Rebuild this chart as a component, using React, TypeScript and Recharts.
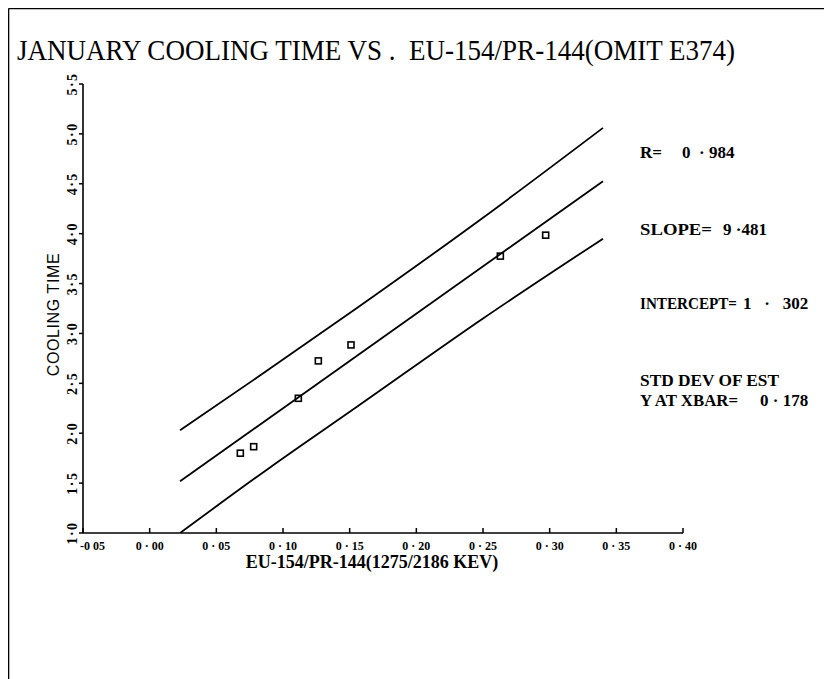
import React from 'react';
import { ComposedChart, XAxis, YAxis, Scatter, Line } from 'recharts';

// ---- data ----
const pointX = [0.068, 0.078, 0.1115, 0.1265, 0.151, 0.263, 0.297];
const pointY = [1.8, 1.865, 2.35, 2.725, 2.885, 3.775, 3.985];

const fitX = [0.0228, 0.34];
const fitY = [1.518, 4.526];

const bandX = [0.0228, 0.09, 0.156, 0.25, 0.34];
const upperY = [2.03, 2.645, 3.26, 4.16, 5.06];
const lowerY = [1.0, 1.655, 2.27, 3.15, 3.95];

const xTicks = [-0.05, 0, 0.05, 0.1, 0.15, 0.2, 0.25, 0.3, 0.35, 0.4];
const xTickLabels = ['-0 05', '0 · 00', '0 · 05', '0 · 10', '0 · 15', '0 · 20', '0 · 25', '0 · 30', '0 · 35', '0 · 40'];
const yTicks = [1, 1.5, 2, 2.5, 3, 3.5, 4, 4.5, 5, 5.5];
const yTickLabels = ['1·0', '1·5', '2·0', '2·5', '3·0', '3·5', '4·0', '4·5', '5·0', '5·5'];

const title = 'JANUARY COOLING TIME VS .  EU-154/PR-144(OMIT E374)';
const xLabel = 'EU-154/PR-144(1275/2186 KEV)';
const yLabel = 'COOLING TIME';
const statLabels = ['R=', 'SLOPE=', 'INTERCEPT=', 'STD DEV OF EST', 'Y AT XBAR='];
const statValues = ['0  · 984', '9 ·481', '1   ·   302', '', '0 · 178'];

// ---- derived tables ----
const points = pointX.map((x, i) => ({ x, y: pointY[i] }));
const fitData = fitX.map((x, i) => ({ x, y: fitY[i] }));
const upperData = bandX.map((x, i) => ({ x, y: upperY[i] }));
const lowerData = bandX.map((x, i) => ({ x, y: lowerY[i] }));

const W = 824;
const H = 671;
const SERIF = '"Liberation Serif", "Times New Roman", serif';
const SANS = '"Liberation Sans", Arial, sans-serif';

// text layout (page pixels)
const statLabelX = 640;
const statBaseY = [158, 235, 309, 386, 406];
const statLabelW = [22, 72, 97, 139, 98];
const statValueX = [682, 723, 743, 0, 760];

const findIdx = (arr: number[], v: number) => arr.findIndex((a) => Math.abs(a - v) < 1e-9);

const XTick = (props: any) => {
  const { x, y, payload } = props;
  const i = findIdx(xTicks, payload.value);
  const first = i === 0;
  return (
    <g>
      <line x1={x} x2={x} y1={y} y2={y - 5} stroke="#000" strokeWidth={1.5} />
      <text
        x={first ? x - 3 : x}
        y={y + 13}
        textAnchor={first ? 'start' : 'middle'}
        dominantBaseline="central"
        fontFamily={SERIF}
        fontWeight="bold"
        fontSize={12}
        fill="#000"
        style={{ whiteSpace: 'pre' }}
      >
        {xTickLabels[i]}
      </text>
    </g>
  );
};

const YTick = (props: any) => {
  const { x, y, payload } = props;
  const i = findIdx(yTicks, payload.value);
  return (
    <g>
      <line x1={x - 4} x2={x} y1={y} y2={y} stroke="#000" strokeWidth={1.5} />
      <text
        transform={`translate(${x - 11},${y}) rotate(-90)`}
        textAnchor="middle"
        dominantBaseline="central"
        fontFamily={SERIF}
        fontWeight="bold"
        fontSize={14}
        letterSpacing={1.5}
        fill="#000"
      >
        {yTickLabels[i]}
      </text>
    </g>
  );
};

const Square = (props: any) => {
  const { cx, cy } = props;
  if (cx == null || cy == null) return <g />;
  return <rect x={cx - 3} y={cy - 3} width={6} height={6} fill="none" stroke="#000" strokeWidth={1.6} />;
};

const XLabel = (props: any) => {
  const vb = props.viewBox || { x: 75, y: 525, width: 600, height: 40 };
  return (
    <text
      x={vb.x + vb.width / 2 - 11}
      y={vb.y + 35}
      textAnchor="middle"
      fontFamily={SERIF}
      fontWeight="bold"
      fontSize={18}
      fill="#000"
    >
      {xLabel}
    </text>
  );
};

const YLabel = (props: any) => {
  const vb = props.viewBox || { x: 35, y: 76, width: 40, height: 449 };
  const cx = vb.x + 10;
  const cy = vb.y + vb.height / 2 + 6;
  return (
    <text
      transform={`translate(${cx},${cy}) rotate(-90)`}
      textAnchor="middle"
      dominantBaseline="central"
      fontFamily={SANS}
      fontSize={16}
      letterSpacing={0.6}
      fill="#000"
    >
      {yLabel}
    </text>
  );
};

export default function App() {
  return (
    <div style={{ position: 'relative', width: W, height: H }}>
      <ComposedChart
        width={W}
        height={H}
        margin={{ top: 76, right: 149, bottom: 106, left: 35 }}
      >
        <XAxis
          type="number"
          dataKey="x"
          domain={[-0.05, 0.4]}
          ticks={xTicks}
          allowDataOverflow
          height={40}
          tickSize={0}
          tickMargin={0}
          tickLine={false}
          axisLine={{ stroke: '#000', strokeWidth: 1.6 }}
          tick={<XTick />}
          interval={0}
          label={<XLabel />}
        />
        <YAxis
          type="number"
          dataKey="y"
          domain={[1, 5.5]}
          ticks={yTicks}
          allowDataOverflow
          width={40}
          tickSize={0}
          tickMargin={0}
          tickLine={false}
          axisLine={{ stroke: '#000', strokeWidth: 1.6 }}
          tick={<YTick />}
          interval={0}
          label={<YLabel />}
        />
        <Line data={upperData} dataKey="y" type="monotone" dot={false} stroke="#000" strokeWidth={1.8} isAnimationActive={false} />
        <Line data={fitData} dataKey="y" type="linear" dot={false} stroke="#000" strokeWidth={1.8} isAnimationActive={false} />
        <Line data={lowerData} dataKey="y" type="monotone" dot={false} stroke="#000" strokeWidth={1.8} isAnimationActive={false} />
        <Scatter data={points} dataKey="y" shape={<Square />} isAnimationActive={false} />
      </ComposedChart>
      <svg
        width={832}
        height={679}
        style={{ position: 'absolute', left: -8, top: -8, pointerEvents: 'none' }}
      >
        <line x1={8.5} y1={8.5} x2={832} y2={8.5} stroke="#000" strokeWidth={1.6} />
        <line x1={8.5} y1={8.5} x2={8.5} y2={679} stroke="#000" strokeWidth={1.6} />
        <line x1={829} y1={640} x2={829} y2={679} stroke="#bbb" strokeWidth={1} strokeDasharray="3 3" />
        <text
          x={17}
          y={60}
          fontFamily={SERIF}
          fontSize={30}
          textLength={718}
          lengthAdjust="spacingAndGlyphs"
          fill="#000"
          style={{ whiteSpace: 'pre' }}
        >
          {title}
        </text>
        {statLabels.map((lab, i) => (
          <g key={lab}>
            <text
              x={statLabelX}
              y={statBaseY[i]}
              fontFamily={SERIF}
              fontWeight="bold"
              fontSize={17}
              textLength={statLabelW[i]}
              lengthAdjust="spacingAndGlyphs"
              fill="#000"
              style={{ whiteSpace: 'pre' }}
            >
              {lab}
            </text>
            {statValues[i] ? (
              <text
                x={statValueX[i]}
                y={statBaseY[i]}
                fontFamily={SERIF}
                fontWeight="bold"
                fontSize={17}
                fill="#000"
                style={{ whiteSpace: 'pre' }}
              >
                {statValues[i]}
              </text>
            ) : null}
          </g>
        ))}
      </svg>
    </div>
  );
}
